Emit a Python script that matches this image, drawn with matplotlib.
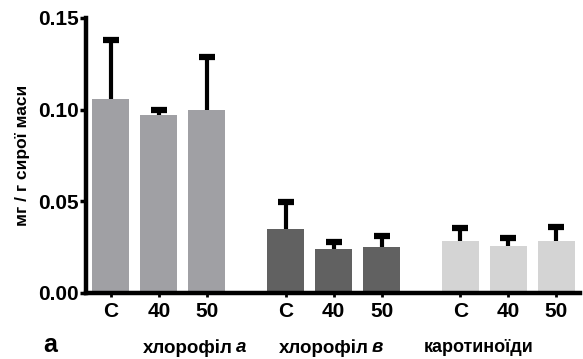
import numpy as np
import matplotlib
matplotlib.use("Agg")
import matplotlib.pyplot as plt

plt.rcParams['font.family'] = ['Liberation Sans', 'DejaVu Sans']
plt.rcParams['font.weight'] = 'bold'

# pigment content, mg per g of fresh mass
treatments = ["C", "40", "50"]
chl_a = [0.106, 0.097, 0.0995]
chl_a_err = [0.032, 0.003, 0.029]
chl_b = [0.0346, 0.0239, 0.0248]
chl_b_err = [0.015, 0.004, 0.0062]
carot = [0.0281, 0.0254, 0.0281]
carot_err = [0.007, 0.0043, 0.008]

groups = [(chl_a, chl_a_err, "#a0a0a4"),
          (chl_b, chl_b_err, "#616161"),
          (carot, carot_err, "#d4d4d4")]

group_step = 3.64
bar_w = 0.77

fig = plt.figure(figsize=(5.83, 3.59), dpi=100)
ax = fig.add_axes([86 / 583, 1 - 292.7 / 359, (580 - 86) / 583, (292.7 - 18) / 359])

ticks = []
labels = []
for g, (vals, errs, col) in enumerate(groups):
    x = np.arange(len(vals)) + g * group_step
    ax.bar(x, vals, width=bar_w, color=col, zorder=2)
    _, caps, _ = ax.errorbar(x, vals, yerr=[np.zeros(len(errs)), errs], fmt='none',
                             ecolor='black', elinewidth=3, capsize=5.5,
                             capthick=4.5, zorder=3)
    # only the upper cap is wanted
    for c in caps:
        if np.allclose(c.get_ydata(), vals):
            c.set_visible(False)
    ticks.extend(x)
    labels.extend(treatments)

ax.set_xlim(-0.52, 9.77)
ax.set_ylim(0, 0.15)
ax.set_yticks([0.0, 0.05, 0.10, 0.15])
ax.set_yticklabels(["0.00", "0.05", "0.10", "0.15"], fontsize=15, fontweight='bold')
ax.set_xticks(ticks)
ax.set_xticklabels(labels, fontsize=15, fontweight='bold')

for side in ['top', 'right']:
    ax.spines[side].set_visible(False)
for side in ['left', 'bottom']:
    ax.spines[side].set_linewidth(3.2)
ax.tick_params(axis='y', width=2.5, length=4, pad=1)
ax.tick_params(axis='x', width=2, length=3, pad=4)

ax.set_ylabel("мг / г сирої маси", fontsize=12.5, fontweight='bold', labelpad=6)

# group captions under the axis
fig.text(50 / 583, 1 - 345 / 359, "а", fontsize=18, fontweight='bold',
         ha='center', va='center')
cap_y = 1 - 348 / 359
fig.text(233 / 583, cap_y, "хлорофіл", fontsize=13.5, fontweight='bold',
         ha='right', va='center')
fig.text(236 / 583, cap_y, "а", fontsize=13.5, fontweight='bold', style='italic',
         ha='left', va='center')
fig.text(369 / 583, cap_y, "хлорофіл", fontsize=13.5, fontweight='bold',
         ha='right', va='center')
fig.text(372 / 583, cap_y, "в", fontsize=13.5, fontweight='bold', style='italic',
         ha='left', va='center')
fig.text(479 / 583, cap_y, "каротиноїди", fontsize=13, fontweight='bold',
         ha='center', va='center')

fig.savefig("out.png", dpi=100)
